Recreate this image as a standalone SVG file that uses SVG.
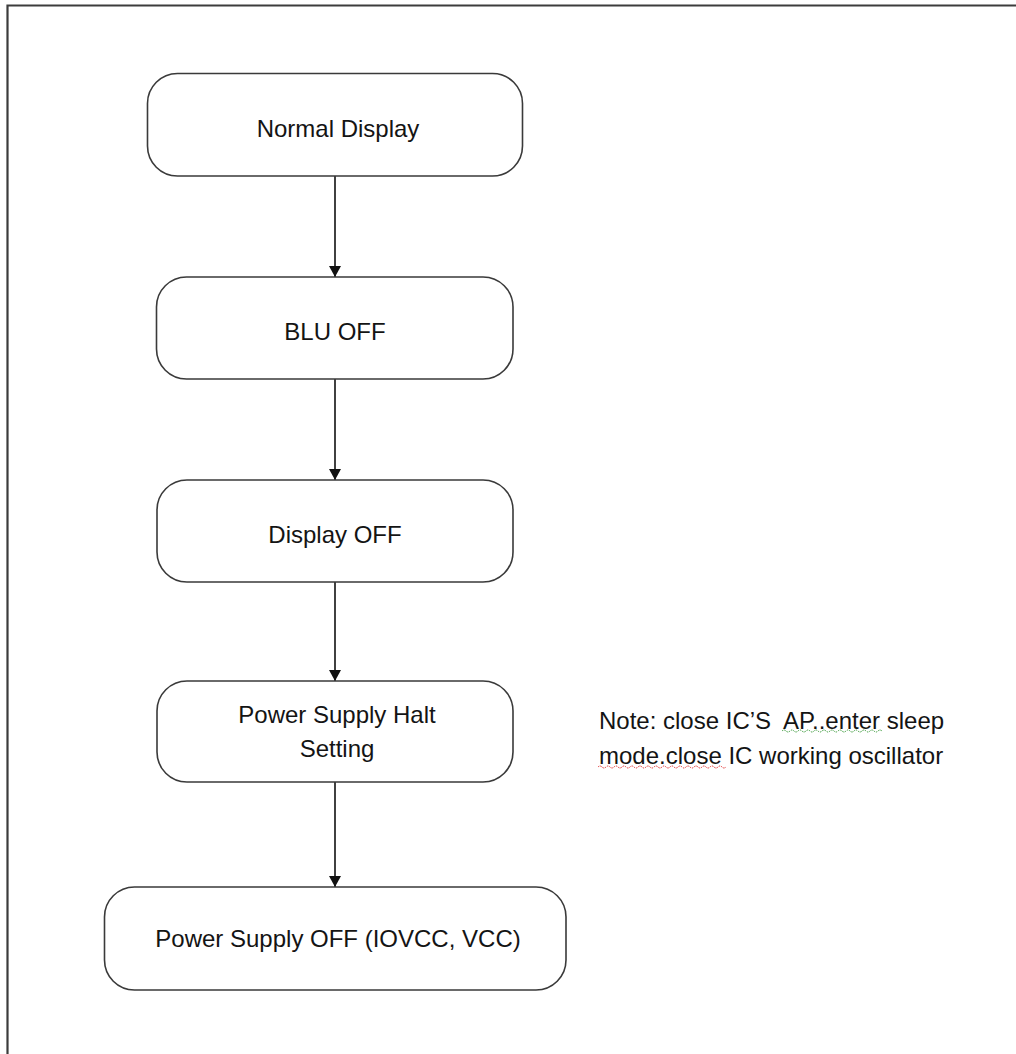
<svg xmlns="http://www.w3.org/2000/svg" width="1016" height="1054" viewBox="0 0 1016 1054">
<style>
.box{fill:#fff;stroke:#3a3a3a;stroke-width:1.6}
.lbl{font-family:"Liberation Sans",Arial,sans-serif;font-size:24px;fill:#141414;text-anchor:middle}
.note{font-family:"Liberation Sans",Arial,sans-serif;font-size:24px;fill:#141414}
.conn{stroke:#111;stroke-width:1.6;fill:none}
</style>
<defs>
<marker id="arr" markerWidth="12" markerHeight="12" refX="11" refY="6" orient="auto" markerUnits="userSpaceOnUse">
<path d="M0,0 L11,6 L0,12 Z" fill="#111"/>
</marker>
</defs>
<rect width="1016" height="1054" fill="#fff"/>
<path d="M7.5,1054 V5.5 H1016" fill="none" stroke="#3c3c3c" stroke-width="2.2"/>
<g id="connectors">
<line class="conn" x1="335" y1="176" x2="335" y2="277" marker-end="url(#arr)"/>
<line class="conn" x1="335" y1="379" x2="335" y2="480" marker-end="url(#arr)"/>
<line class="conn" x1="335" y1="582" x2="335" y2="681" marker-end="url(#arr)"/>
<line class="conn" x1="335" y1="782" x2="335" y2="887" marker-end="url(#arr)"/>
</g>
<g id="n1">
<rect class="box" x="147.5" y="73.5" width="375" height="102.5" rx="30" ry="30"/>
<text class="lbl" x="338" y="137">Normal Display</text>
</g>
<g id="n2">
<rect class="box" x="156.5" y="277" width="356.5" height="102" rx="30" ry="30"/>
<text class="lbl" x="335" y="340">BLU OFF</text>
</g>
<g id="n3">
<rect class="box" x="157" y="480" width="356" height="102" rx="30" ry="30"/>
<text class="lbl" x="335" y="543">Display OFF</text>
</g>
<g id="n4">
<rect class="box" x="157" y="681" width="356" height="101" rx="30" ry="30"/>
<text class="lbl" x="337" y="723">Power Supply Halt</text>
<text class="lbl" x="337" y="757">Setting</text>
</g>
<g id="n5">
<rect class="box" x="104.5" y="887" width="461.5" height="103" rx="30" ry="30"/>
<text class="lbl" x="338" y="947">Power Supply OFF (IOVCC, VCC)</text>
</g>
<g id="note">
<text class="note" x="599" y="729" xml:space="preserve">Note: close IC’S  AP..enter sleep</text>
<text class="note" x="599" y="764">mode.close IC working oscillator</text>
<path d="M782,731 q2,-2 4,0 t4,0 t4,0 t4,0 t4,0 t4,0 t4,0 t4,0 t4,0 t4,0 t4,0 t4,0 t4,0 t4,0 t4,0 t4,0 t4,0 t4,0 t4,0 t4,0 t4,0 t4,0 t4,0 t4,0 t4,0" fill="none" stroke="#3a9a3a" stroke-width="1" stroke-dasharray="1.5,1"/>
<path d="M598,767 q2,-2 4,0 t4,0 t4,0 t4,0 t4,0 t4,0 t4,0 t4,0 t4,0 t4,0 t4,0 t4,0 t4,0 t4,0 t4,0 t4,0 t4,0 t4,0 t4,0 t4,0 t4,0 t4,0 t4,0 t4,0 t4,0 t4,0 t4,0 t4,0 t4,0 t4,0 t4,0 t4,0" fill="none" stroke="#e03030" stroke-width="1" stroke-dasharray="1.5,1"/>
</g>
</svg>
